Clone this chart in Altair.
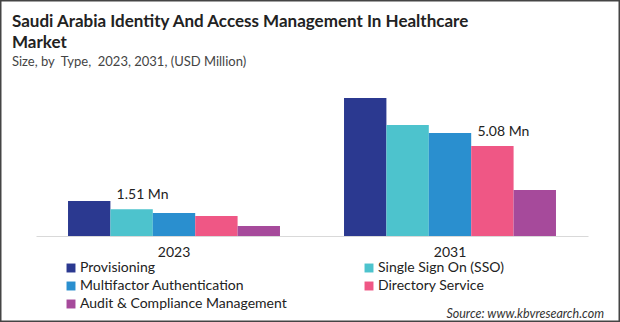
import altair as alt
import pandas as pd

years = ["2023", "2031"]
types = [
    "Provisioning",
    "Single Sign On (SSO)",
    "Multifactor Authentication",
    "Directory Service",
    "Audit & Compliance Management",
]
values_2023 = [1.98, 1.51, 1.30, 1.13, 0.56]
values_2031 = [7.79, 6.27, 5.81, 5.08, 2.60]
colors = ["#2b3990", "#4dc3cd", "#2a8fcf", "#ef5785", "#a64a9b"]
annotations = {("2023", "Single Sign On (SSO)"): "1.51 Mn",
               ("2031", "Directory Service"): "5.08 Mn"}
title_lines = ["Saudi Arabia Identity And Access Management In Healthcare",
               "Market"]
subtitle = "Size, by\u00a0 Type,\u00a0 2023, 2031, (USD Million)"
source_text = "Source: www.kbvresearch.com"

rows = []
for yr, vals in zip(years, [values_2023, values_2031]):
    for t, v in zip(types, vals):
        rows.append({"year": yr, "type": t, "value": v,
                     "label": annotations.get((yr, t), "")})
df = pd.DataFrame(rows)

FONT = "Lato"
W, H = 552, 150
PAD_L, PAD_T = 36, 86

x_enc = alt.X("year:N", sort=years,
              scale=alt.Scale(paddingInner=0.232, paddingOuter=0.116),
              axis=alt.Axis(title=None, labelAngle=0, ticks=False,
                            labelFontSize=14, labelColor="#222",
                            labelPadding=9, domainColor="#d9d9d9",
                            labelFont=FONT))
xo_enc = alt.XOffset("type:N", sort=types,
                     scale=alt.Scale(paddingInner=0, paddingOuter=0))
y_enc = alt.Y("value:Q", scale=alt.Scale(domain=[0, 8.465], nice=False),
              axis=None)

base = alt.Chart(df)

bars = base.mark_bar().encode(
    x=x_enc, xOffset=xo_enc, y=y_enc,
    color=alt.Color("type:N", sort=types,
                    scale=alt.Scale(domain=types, range=colors),
                    legend=alt.Legend(
                        title=None, orient="none", legendX=28, legendY=175,
                        direction="horizontal",
                        columns=2, columnPadding=75, rowPadding=4,
                        symbolType="square", symbolSize=80,
                        symbolStrokeWidth=0, labelFontSize=14,
                        labelColor="#222", labelFont=FONT,
                        labelOffset=2, labelLimit=400)),
)

text = base.transform_filter("datum.label != ''").mark_text(
    fontSize=14, color="#222", dx=11, dy=-10, baseline="alphabetic",
    font=FONT
).encode(x=x_enc, xOffset=xo_enc, y=y_enc, text="label:N")

source = alt.Chart(alt.Data(values=[{"s": source_text}])).mark_text(
    fontSize=12.5, fontStyle="italic", color="#333", align="right",
    baseline="alphabetic", font=FONT
).encode(x=alt.value(568), y=alt.value(232), text="s:N")

title1 = alt.Chart(alt.Data(values=[{"s": title_lines[0]}])).mark_text(
    fontSize=17, fontWeight="bold", color="#222", align="left",
    baseline="alphabetic", font=FONT
).encode(x=alt.value(-24), y=alt.value(-59), text="s:N")

title2 = alt.Chart(alt.Data(values=[{"s": title_lines[1]}])).mark_text(
    fontSize=17, fontWeight="bold", color="#222", align="left",
    baseline="alphabetic", font=FONT
).encode(x=alt.value(-24), y=alt.value(-38), text="s:N")

sub = alt.Chart(alt.Data(values=[{"s": subtitle}])).mark_text(
    fontSize=13, color="#444", align="left",
    baseline="alphabetic", font=FONT
).encode(x=alt.value(-24), y=alt.value(-20), text="s:N")

frame = alt.Chart(alt.Data(values=[{}])).mark_rect(
    fill="transparent", stroke="#444", strokeWidth=1.5
).encode(x=alt.value(-PAD_L + 0.75), x2=alt.value(620 - PAD_L - 0.75),
         y=alt.value(-PAD_T + 0.75), y2=alt.value(322 - PAD_T - 0.75))

chart = alt.layer(bars, text, source, title1, title2, sub, frame).properties(
    width=W, height=H,
    background="white",
    autosize=alt.AutoSizeParams(type="none"),
    padding={"left": PAD_L, "top": PAD_T, "right": 620 - PAD_L - W,
             "bottom": 322 - PAD_T - H},
).configure_view(stroke=None)

chart.save("out.html", embed_options={"renderer": "svg", "actions": False})
